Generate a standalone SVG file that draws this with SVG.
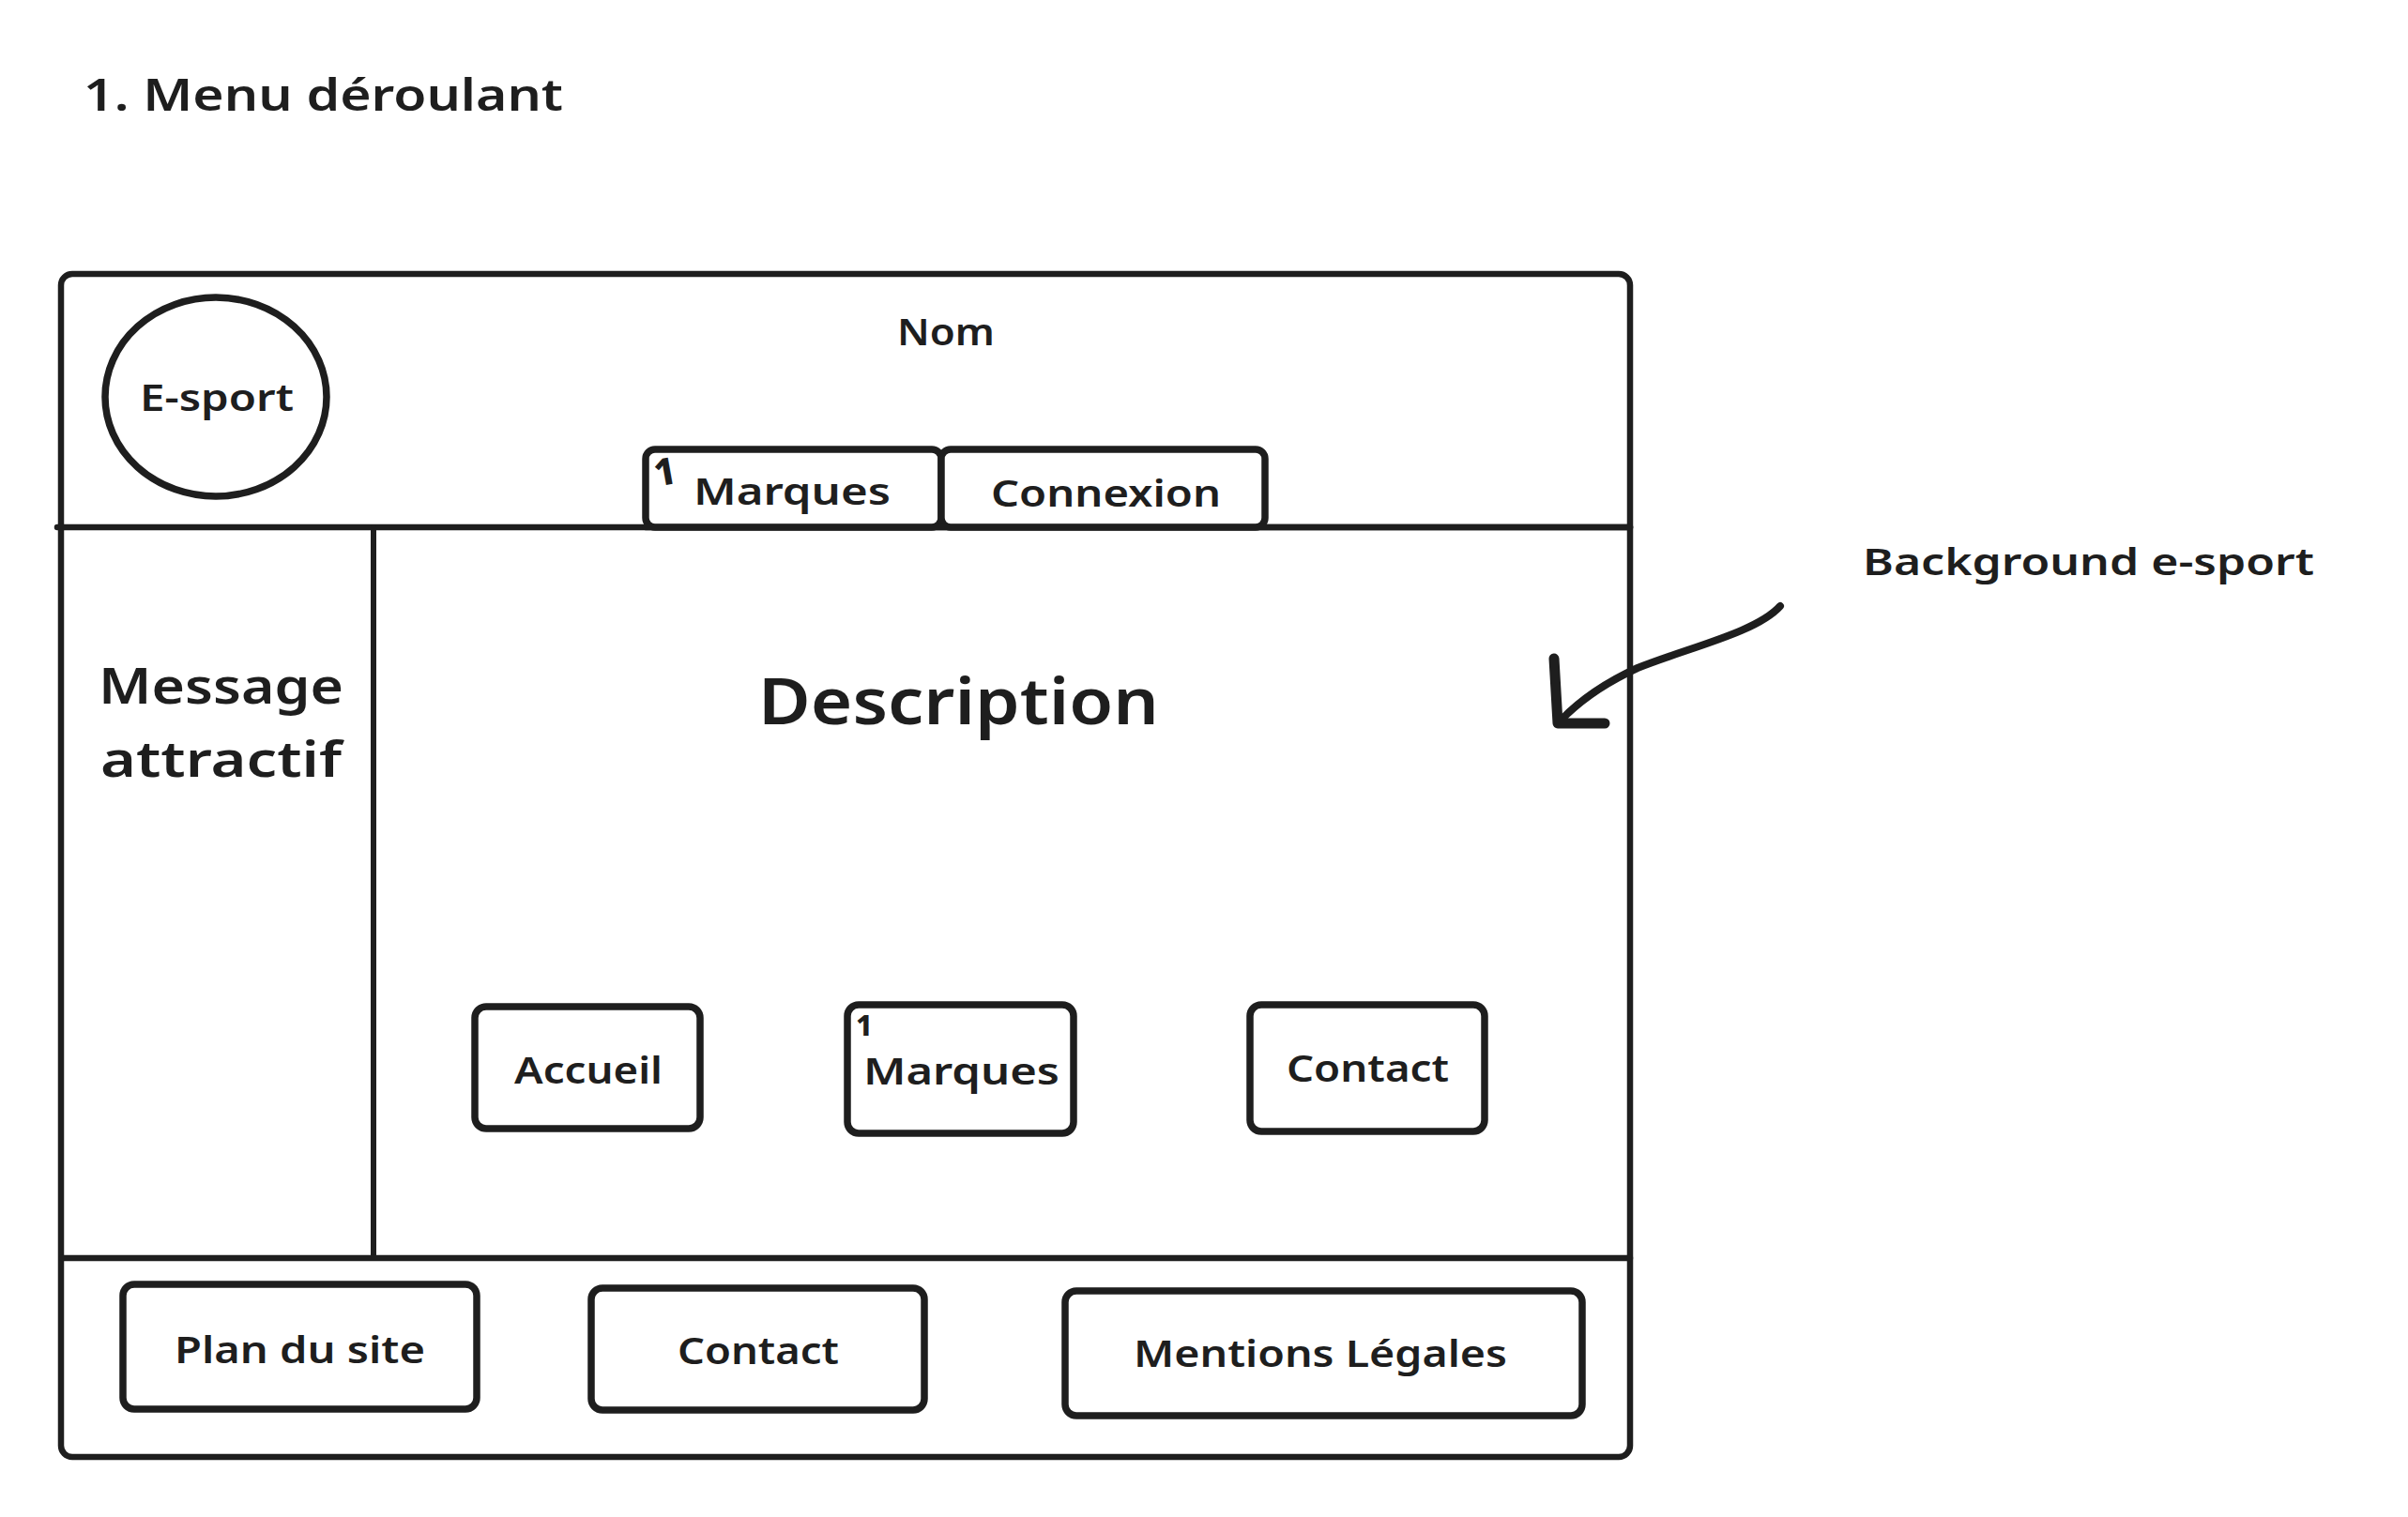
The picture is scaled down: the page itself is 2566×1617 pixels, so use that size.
<svg xmlns="http://www.w3.org/2000/svg" width="2566" height="1617" viewBox="0 0 2566 1617">
<style>
  .ln { fill: none; stroke: #1e1e1e; stroke-linecap: round; stroke-linejoin: round; }
  .frame { stroke-width: 6.5; }
  .box { fill: #ffffff; stroke: #1e1e1e; stroke-width: 7.5; }
  .t { font-family: "Noto Sans", "Liberation Sans", sans-serif; font-weight: 600; fill: #1e1e1e; }
  .s { font-size: 40px; }
  .mark { font-weight: 800; }
</style>
<rect width="2566" height="1617" fill="#ffffff"/>

<g id="title">
  <text class="t" x="89" y="118" font-size="46" textLength="511" lengthAdjust="spacingAndGlyphs">1. Menu déroulant</text>
</g>

<g id="page-frame">
  <rect class="ln frame" x="65" y="292" width="1672" height="1261" rx="12"/>
  <line class="ln frame" x1="61" y1="562" x2="1737" y2="562"/>
  <line class="ln" stroke-width="6" x1="398" y1="562" x2="398" y2="1341"/>
  <line class="ln frame" x1="66" y1="1341" x2="1737" y2="1341"/>
</g>

<g id="logo">
  <ellipse class="ln" stroke-width="7.5" cx="230" cy="423" rx="118" ry="106"/>
  <text class="t s" x="149" y="438" textLength="164" lengthAdjust="spacingAndGlyphs">E-sport</text>
</g>

<g id="nom">
  <text class="t s" x="956" y="368" textLength="104" lengthAdjust="spacingAndGlyphs">Nom</text>
</g>

<g id="tab-marques">
  <rect class="box" x="688" y="479" width="315" height="83" rx="10"/>
  <text class="t mark" x="697" y="517" font-size="40" transform="rotate(-10 708 503)">1</text>
  <text class="t s" x="739" y="538" textLength="210" lengthAdjust="spacingAndGlyphs">Marques</text>
</g>

<g id="tab-connexion">
  <rect class="box" x="1003" y="479" width="345" height="83" rx="10"/>
  <text class="t s" x="1056" y="540" textLength="245" lengthAdjust="spacingAndGlyphs">Connexion</text>
</g>
<line class="ln frame" x1="688" y1="562" x2="1737" y2="562"/>

<g id="message-attractif">
  <text class="t" x="105" y="750" font-size="52" textLength="261" lengthAdjust="spacingAndGlyphs">Message</text>
  <text class="t" x="107" y="828" font-size="52" textLength="257" lengthAdjust="spacingAndGlyphs">attractif</text>
</g>

<g id="description">
  <text class="t" x="808" y="772" font-size="68" textLength="427" lengthAdjust="spacingAndGlyphs">Description</text>
</g>

<g id="btn-accueil">
  <rect class="box" x="506" y="1073" width="240" height="130" rx="12"/>
  <text class="t s" x="548" y="1155" textLength="158" lengthAdjust="spacingAndGlyphs">Accueil</text>
</g>

<g id="btn-marques">
  <rect class="box" x="903" y="1071" width="241" height="137" rx="12"/>
  <text class="t mark" x="912" y="1104" font-size="31">1</text>
  <text class="t s" x="920" y="1156" textLength="209" lengthAdjust="spacingAndGlyphs">Marques</text>
</g>

<g id="btn-contact">
  <rect class="box" x="1332" y="1071" width="250" height="135" rx="12"/>
  <text class="t s" x="1371" y="1153" textLength="173" lengthAdjust="spacingAndGlyphs">Contact</text>
</g>

<g id="footer-plan">
  <rect class="box" x="131" y="1369" width="377" height="133" rx="12"/>
  <text class="t s" x="186" y="1453" textLength="267" lengthAdjust="spacingAndGlyphs">Plan du site</text>
</g>

<g id="footer-contact">
  <rect class="box" x="630" y="1373" width="355" height="130" rx="12"/>
  <text class="t s" x="722" y="1454" textLength="172" lengthAdjust="spacingAndGlyphs">Contact</text>
</g>

<g id="footer-mentions">
  <rect class="box" x="1135" y="1376" width="551" height="133" rx="12"/>
  <text class="t s" x="1208" y="1457" textLength="398" lengthAdjust="spacingAndGlyphs">Mentions Légales</text>
</g>

<g id="background-label">
  <text class="t s" x="1985" y="613" textLength="481" lengthAdjust="spacingAndGlyphs">Background e-sport</text>
</g>

<g id="connectors">
  <path class="ln" stroke-width="8" d="M1897,646 C1872,674 1800,690 1745,712 C1710,728 1684,746 1663,768"/>
  <path class="ln" stroke-width="11" d="M1656,702 L1660,771 L1710,771"/>
</g>
</svg>
